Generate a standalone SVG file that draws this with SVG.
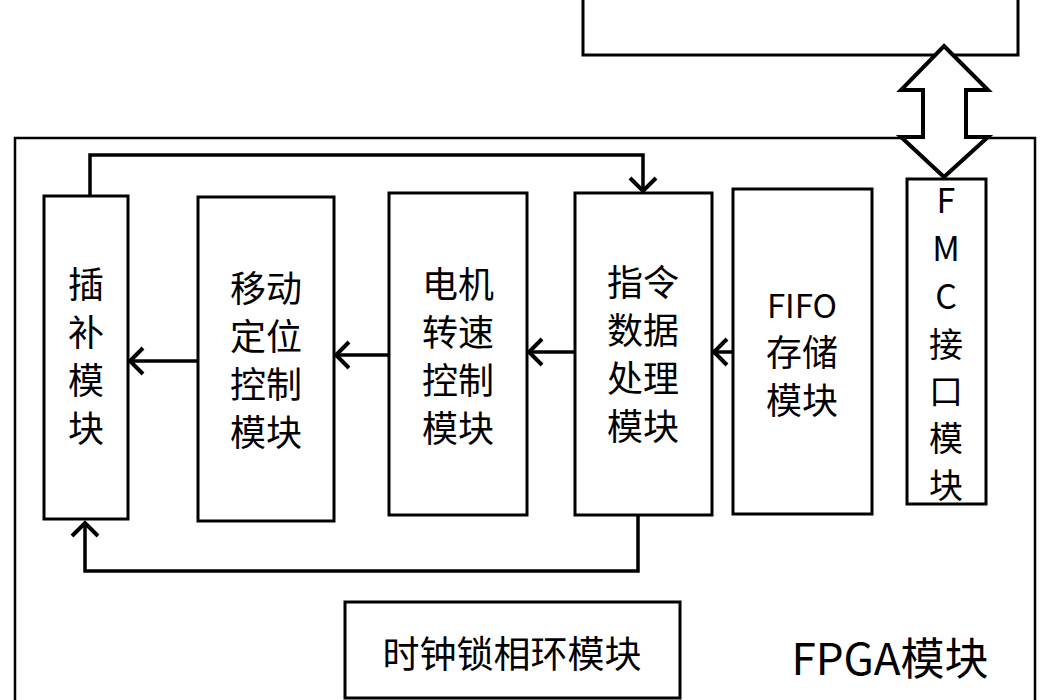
<svg xmlns="http://www.w3.org/2000/svg" width="1050" height="700" viewBox="0 0 1050 700">
<style>
.box{fill:#fff;stroke:#000;stroke-width:3}
.outer{fill:none;stroke:#000;stroke-width:2.5}
.t{font-family:"Noto Sans CJK SC","Liberation Sans",sans-serif;font-size:36px;fill:#000;text-anchor:middle}
.c{fill:none;stroke:#000;stroke-width:3.5}
.ah{fill:none;stroke:#000;stroke-width:4}
</style>
<rect width="1050" height="700" fill="#fff"/>
<g id="host"><rect class="box" x="583" y="-5" width="435" height="60"/></g>
<g id="fpga"><rect class="outer" x="15" y="138" width="1020" height="580"/>
<text class="t" x="890" y="675" style="font-size:44px">FPGA模块</text></g>
<g id="chabu"><rect class="box" x="44" y="196" width="84" height="323"/>
<text class="t" x="86" y="298">插</text><text class="t" x="86" y="346">补</text><text class="t" x="86" y="394">模</text><text class="t" x="86" y="442">块</text></g>
<g id="yidong"><rect class="box" x="198" y="197" width="136" height="324"/>
<text class="t" x="266" y="302">移动</text><text class="t" x="266" y="350">定位</text><text class="t" x="266" y="398">控制</text><text class="t" x="266" y="446">模块</text></g>
<g id="dianji"><rect class="box" x="389" y="193" width="138" height="322"/>
<text class="t" x="458" y="298">电机</text><text class="t" x="458" y="346">转速</text><text class="t" x="458" y="394">控制</text><text class="t" x="458" y="442">模块</text></g>
<g id="zhiling"><rect class="box" x="575" y="193" width="137" height="322"/>
<text class="t" x="643" y="296">指令</text><text class="t" x="643" y="344">数据</text><text class="t" x="643" y="392">处理</text><text class="t" x="643" y="440">模块</text></g>
<g id="fifo"><rect class="box" x="733" y="189" width="139" height="325"/>
<text class="t" x="802" y="318" style="font-size:33px">FIFO</text><text class="t" x="802" y="366">存储</text><text class="t" x="802" y="414">模块</text></g>
<g id="fmc"><rect class="box" x="907" y="179" width="79" height="325"/>
<text class="t" x="946" y="213" style="font-size:34px">F</text><text class="t" x="946" y="261" style="font-size:34px">M</text><text class="t" x="946" y="309" style="font-size:34px">C</text>
<text class="t" x="946" y="357" style="font-size:34px">接</text><text class="t" x="946" y="404" style="font-size:34px">口</text><text class="t" x="946" y="451" style="font-size:34px">模</text><text class="t" x="946" y="498" style="font-size:34px">块</text></g>
<g id="pll"><rect class="box" x="345" y="602" width="335" height="96"/>
<text class="t" x="512" y="668" style="font-size:37px">时钟锁相环模块</text></g>
<g id="connectors">
<path class="c" d="M198 361H130"/><path class="ah" d="M143 348L130 361L143 374"/>
<path class="c" d="M389 355H336"/><path class="ah" d="M349 342L336 355L349 368"/>
<path class="c" d="M575 352H529"/><path class="ah" d="M542 339L529 352L542 365"/>
<path class="c" d="M733 352H714"/><path class="ah" d="M727 339L714 352L727 365"/>
<path class="c" d="M90 196V155H643V191"/><path class="ah" d="M630 178L643 191L656 178"/>
<path class="c" d="M638 515V571H85V523"/><path class="ah" d="M72 536L85 523L98 536"/>
<path d="M944 46L988 90H966V137H988L944 177L901 137H923V90H901Z" fill="#fff" stroke="#000" stroke-width="4" stroke-linejoin="miter"/>
</g>
</svg>
